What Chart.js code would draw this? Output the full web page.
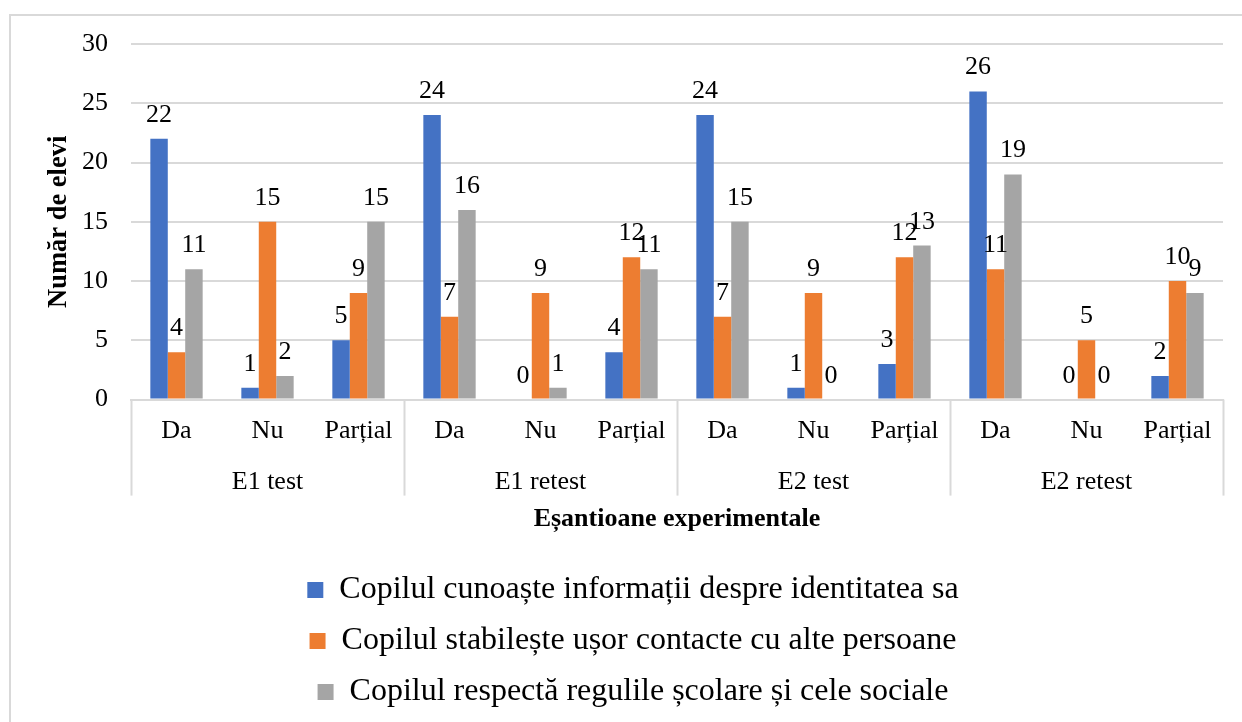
<!DOCTYPE html>
<html lang="ro">
<head>
  <meta charset="UTF-8">
  <title>Eșantioane experimentale</title>
  <script src="https://cdn.jsdelivr.net/npm/chart.js@4.4.1/dist/chart.umd.min.js"></script>
  <style>
    body { margin: 0; background: #fff; overflow: hidden; }
    #frame { position: absolute; left: 9px; top: 14px; width: 1260px; height: 740px; border: 2px solid #d9d9d9; box-sizing: border-box; }
    #chart { position: absolute; left: 0; top: 0; }
  </style>
</head>
<body>
  <div id="frame"></div>
  <canvas id="chart" width="1242" height="722"></canvas>

  <script>
    var groups = ['E1 test', 'E1 retest', 'E2 test', 'E2 retest'];
    var answers = ['Da', 'Nu', 'Parțial'];

    var seriesNames = [
      'Copilul cunoaște informații despre identitatea sa',
      'Copilul stabilește ușor contacte cu alte persoane',
      'Copilul respectă regulile școlare și cele sociale'
    ];
    var identitate = [22, 1, 5, 24, 0, 4, 24, 1, 3, 26, 0, 2];
    var contacte = [4, 15, 9, 7, 9, 12, 7, 9, 12, 11, 5, 10];
    var reguli = [11, 2, 15, 16, 1, 11, 15, 0, 13, 19, 0, 9];
    var colors = ['#4472C4', '#ED7D31', '#A5A5A5'];

    var yTicks = [0, 5, 10, 15, 20, 25, 30];

    var labels = [];
    groups.forEach(function () {
      answers.forEach(function (a) { labels.push(a); });
    });

    var FONT = "'Liberation Serif', 'Times New Roman', serif";
    var GRID = '#d9d9d9';

    // value labels above each bar
    var valueLabels = {
      id: 'valueLabels',
      afterDatasetsDraw: function (chart) {
        var ctx = chart.ctx;
        ctx.save();
        ctx.font = '26px ' + FONT;
        ctx.fillStyle = '#000';
        ctx.textAlign = 'center';
        ctx.textBaseline = 'alphabetic';
        chart.data.datasets.forEach(function (ds, i) {
          chart.getDatasetMeta(i).data.forEach(function (bar, j) {
            ctx.fillText(String(ds.data[j]), bar.x, bar.y - 17);
          });
        });
        ctx.restore();
      }
    };

    // second level of the category axis: group names and separators
    var groupAxis = {
      id: 'groupAxis',
      afterDraw: function (chart) {
        var ctx = chart.ctx;
        var x = chart.scales.x;
        var step = (x.right - x.left) / labels.length;
        var top = x.top;
        ctx.save();
        ctx.strokeStyle = GRID;
        ctx.lineWidth = 2;
        for (var k = 0; k <= groups.length; k++) {
          var px = Math.round(x.left + step * answers.length * k) + 0.5;
          ctx.beginPath();
          ctx.moveTo(px, top);
          ctx.lineTo(px, top + 96);
          ctx.stroke();
        }
        ctx.font = '26px ' + FONT;
        ctx.fillStyle = '#000';
        ctx.textAlign = 'center';
        ctx.textBaseline = 'alphabetic';
        groups.forEach(function (g, k) {
          var cx = x.getPixelForValue(k * answers.length + 1);
          ctx.fillText(g, cx, top + 89);
        });
        ctx.restore();
      }
    };

    var ctx = document.getElementById('chart').getContext('2d');
    var chart = new Chart(ctx, {
      type: 'bar',
      data: {
        labels: labels,
        datasets: [
          { label: seriesNames[0], data: identitate, backgroundColor: colors[0] },
          { label: seriesNames[1], data: contacte, backgroundColor: colors[1] },
          { label: seriesNames[2], data: reguli, backgroundColor: colors[2] }
        ]
      },
      options: {
        responsive: false,
        animation: false,
        layout: { padding: { top: 44, left: 43, right: 19, bottom: 4 } },
        datasets: {
          bar: { categoryPercentage: 0.575, barPercentage: 1, borderWidth: 0 }
        },
        scales: {
          x: {
            grid: { display: false, drawTicks: false },
            border: { display: true, color: GRID, width: 2 },
            ticks: { color: '#000', font: { family: FONT, size: 26 }, padding: 16, maxRotation: 0, autoSkip: false },
            title: {
              display: true,
              text: 'Eșantioane experimentale',
              color: '#000',
              font: { family: FONT, size: 26, weight: 'bold' },
              padding: { top: 41, bottom: 20 }
            }
          },
          y: {
            min: 0,
            max: 30,
            afterBuildTicks: function (axis) {
              axis.ticks = yTicks.map(function (v) { return { value: v }; });
            },
            afterFit: function (axis) { axis.width = 88; },
            grid: { color: GRID, lineWidth: 2, drawTicks: false },
            border: { display: false },
            ticks: { color: '#000', font: { family: FONT, size: 26 }, padding: 23 },
            title: {
              display: true,
              text: 'Număr de elevi',
              color: '#000',
              font: { family: FONT, size: 26.5, weight: 'bold' },
              padding: { top: 0, bottom: 8 }
            }
          }
        },
        plugins: {
          legend: {
            position: 'bottom',
            labels: {
              color: '#000',
              font: { family: FONT, size: 32 },
              boxWidth: 16,
              boxHeight: 16,
              padding: 19
            }
          },
          tooltip: { enabled: false }
        }
      },
      plugins: [valueLabels, groupAxis]
    });
  </script>
</body>
</html>
